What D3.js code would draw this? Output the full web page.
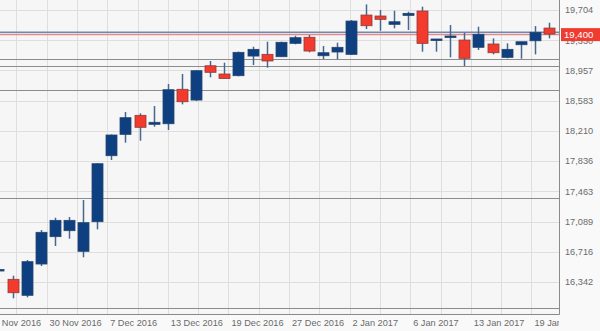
<!DOCTYPE html>
<html>
<head>
<meta charset="utf-8">
<script src="https://cdn.jsdelivr.net/npm/d3@7/dist/d3.min.js"></script>
<style>
  body { margin: 0; background: #f9f9f9; }
  svg { display: block; font-family: "Liberation Sans", Arial, sans-serif; }
</style>
</head>
<body>
<div id="candle-chart"></div>
<script>
// daily candles, 25 Nov 2016 .. 20 Jan 2017
const dates = ["2016-11-25", "2016-11-28", "2016-11-29", "2016-11-30", "2016-12-01", "2016-12-02",
    "2016-12-05", "2016-12-06", "2016-12-07", "2016-12-08", "2016-12-09", "2016-12-12", "2016-12-13",
    "2016-12-14", "2016-12-15", "2016-12-16", "2016-12-19", "2016-12-20", "2016-12-21", "2016-12-22",
    "2016-12-23", "2016-12-27", "2016-12-28", "2016-12-29", "2016-12-30", "2017-01-02", "2017-01-03",
    "2017-01-04", "2017-01-05", "2017-01-06", "2017-01-09", "2017-01-10", "2017-01-11", "2017-01-12",
    "2017-01-13", "2017-01-16", "2017-01-17", "2017-01-18", "2017-01-19", "2017-01-20"];
const opens = [16488, 16375, 16177, 16564, 16902, 16976, 16721, 17087, 17903, 18167, 18402, 18291, 18298,
    18724, 18591, 19015, 18913, 18892, 19135, 19156, 19127, 19292, 19367, 19139, 19185, 19156, 19642,
    19630, 19527, 19638, 19692, 19333, 19367, 19333, 19243, 19284, 19119, 19275, 19324, 19481];
const highs = [16500, 16419, 16613, 16984, 17136, 17145, 17355, 17810, 18165, 18443, 18427, 18517, 18789,
    18913, 18962, 19074, 19053, 19190, 19250, 19312, 19312, 19386, 19395, 19259, 19300, 19580, 19774,
    19704, 19695, 19683, 19745, 19346, 19519, 19423, 19498, 19354, 19292, 19312, 19506, 19547];
const lows = [16470, 16140, 16152, 16539, 16787, 16877, 16647, 16993, 17850, 18064, 18088, 18261, 18221,
    18538, 18579, 18872, 18855, 18885, 19024, 18991, 19127, 19280, 19181, 19098, 19095, 19148, 19469,
    19448, 19478, 19457, 19189, 19189, 19119, 19012, 19210, 19156, 19107, 19102, 19156, 19354];
const closes = [16496, 16209, 16593, 16956, 17104, 17104, 17075, 17804, 18159, 18373, 18254, 18316, 18719,
    18570, 18954, 18934, 18858, 19181, 19218, 19074, 19305, 19362, 19197, 19176, 19243, 19568, 19510,
    19589, 19559, 19663, 19292, 19346, 19383, 19107, 19404, 19176, 19218, 19312, 19428, 19407];

const yTicks = [16342, 16716, 17089, 17463, 17836, 18210, 18583, 18957, 19330, 19704];
const xTickLabels = ["24 Nov 2016", "30 Nov 2016", "7 Dec 2016", "13 Dec 2016", "19 Dec 2016",
    "27 Dec 2016", "2 Jan 2017", "6 Jan 2017", "13 Jan 2017", "19 Jan 2017"];

// drawn support / resistance levels
const levels = [19104, 19018, 18715, 17376, 16016];
const askPrice = 19430;
const lastPrice = 19400;

function CandlestickChart({
    width = 600,
    height = 331,
    plotWidth = 559, // right edge of the plot
    plotHeight = 314, // bottom edge of the plot
    candleWidth = 11,
    gridStart = 16.3, // first vertical grid line, px
    gridStep = 30.3, // vertical grid spacing, px
    upColor = "#0e3f80",
    downColor = "#f23a2d",
    wickColor = "#44688f",
    gridColor = "#dedede",
    levelColor = "#8c8c8c",
    textColor = "#6a6a6a"
} = {}) {
    const candles = d3.map(dates, (d, i) => ({
        date: d, open: opens[i], high: highs[i], low: lows[i], close: closes[i]
    }));

    const x = d3.scaleLinear().domain([0, candles.length - 1]).range([-1.6, 549.1]);
    const y = d3.scaleLinear().domain([15946, 19828]).range([plotHeight, 0]);

    const svg = d3.select("#candle-chart")
        .append("svg")
        .attr("width", width)
        .attr("height", height);

    svg.append("clipPath").attr("id", "plot-clip")
        .append("rect").attr("width", plotWidth).attr("height", plotHeight);
    svg.append("clipPath").attr("id", "xaxis-clip")
        .append("rect").attr("width", plotWidth).attr("height", height);

    svg.append("rect")
        .attr("width", plotWidth)
        .attr("height", plotHeight)
        .attr("fill", "#f6f6f6");

    const plot = svg.append("g").attr("clip-path", "url(#plot-clip)");

    // vertical grid, evenly spaced, labels on every other line
    const gridX = d3.range(-1, 18).map(j => gridStart + j * gridStep);
    plot.append("g")
        .selectAll("line")
        .data(gridX)
        .join("line")
        .attr("x1", d => Math.round(d) + 0.5)
        .attr("x2", d => Math.round(d) + 0.5)
        .attr("y1", 0)
        .attr("y2", plotHeight)
        .attr("stroke", gridColor);

    plot.append("g")
        .selectAll("line")
        .data(yTicks)
        .join("line")
        .attr("x1", 0)
        .attr("x2", plotWidth)
        .attr("y1", d => Math.round(y(d)) + 0.5)
        .attr("y2", d => Math.round(y(d)) + 0.5)
        .attr("stroke", gridColor);

    plot.append("g")
        .selectAll("line")
        .data(levels)
        .join("line")
        .attr("x1", 0)
        .attr("x2", plotWidth)
        .attr("y1", d => Math.round(y(d)) + 0.5)
        .attr("y2", d => Math.round(y(d)) + 0.5)
        .attr("stroke", levelColor);

    // ask / last lines
    plot.append("line")
        .attr("x1", 0).attr("x2", plotWidth)
        .attr("y1", y(askPrice)).attr("y2", y(askPrice))
        .attr("stroke", "#7088b0").attr("stroke-width", 1.5);
    plot.append("line")
        .attr("x1", 0).attr("x2", plotWidth)
        .attr("y1", y(lastPrice)).attr("y2", y(lastPrice))
        .attr("stroke", "#e08a8e").attr("stroke-width", 1.5);

    const candle = plot.append("g")
        .selectAll("g")
        .data(candles)
        .join("g")
        .attr("transform", (d, i) => `translate(${Math.round(x(i)) + 0.5},0)`);

    candle.append("line")
        .attr("y1", d => y(d.high))
        .attr("y2", d => y(d.low))
        .attr("stroke", wickColor)
        .attr("stroke-width", 1.5);

    candle.append("rect")
        .attr("x", -candleWidth / 2)
        .attr("width", candleWidth)
        .attr("y", d => y(Math.max(d.open, d.close)))
        .attr("height", d => Math.max(1.5, Math.abs(y(d.open) - y(d.close))))
        .attr("fill", d => d.close >= d.open ? upColor : downColor)
        .attr("stroke", d => d.close >= d.open ? "#27466e" : "#8f3b3b")
        .attr("stroke-width", 0.8);

    // frame: right and bottom
    svg.append("path")
        .attr("d", `M0,${plotHeight + 0.5}H${plotWidth + 0.5}V0`)
        .attr("fill", "none")
        .attr("stroke", "#8a8a8a");

    // right price axis
    svg.append("g")
        .selectAll("text")
        .data(yTicks)
        .join("text")
        .attr("x", 565)
        .attr("y", d => y(d))
        .attr("dy", "0.35em")
        .attr("font-size", 9.2)
        .attr("fill", textColor)
        .text(d => d3.format(",")(d));

    // bottom date labels
    svg.append("g")
        .attr("clip-path", "url(#xaxis-clip)")
        .selectAll("text")
        .data(xTickLabels)
        .join("text")
        .attr("x", (d, i) => gridX[i * 2] + 3)
        .attr("y", 323)
        .attr("dy", "0.35em")
        .attr("font-size", 9.2)
        .attr("fill", textColor)
        .text(d => d);

    // last price flag
    const flag = svg.append("g").attr("transform", `translate(561,${y(lastPrice)})`);
    flag.append("rect")
        .attr("y", -6.5)
        .attr("width", 39)
        .attr("height", 13)
        .attr("fill", "#ef3b30");
    flag.append("text")
        .attr("x", 3)
        .attr("dy", "0.36em")
        .attr("font-size", 9.6)
        .attr("fill", "#fff")
        .text(d3.format(",")(lastPrice));
}

CandlestickChart();
</script>
</body>
</html>
